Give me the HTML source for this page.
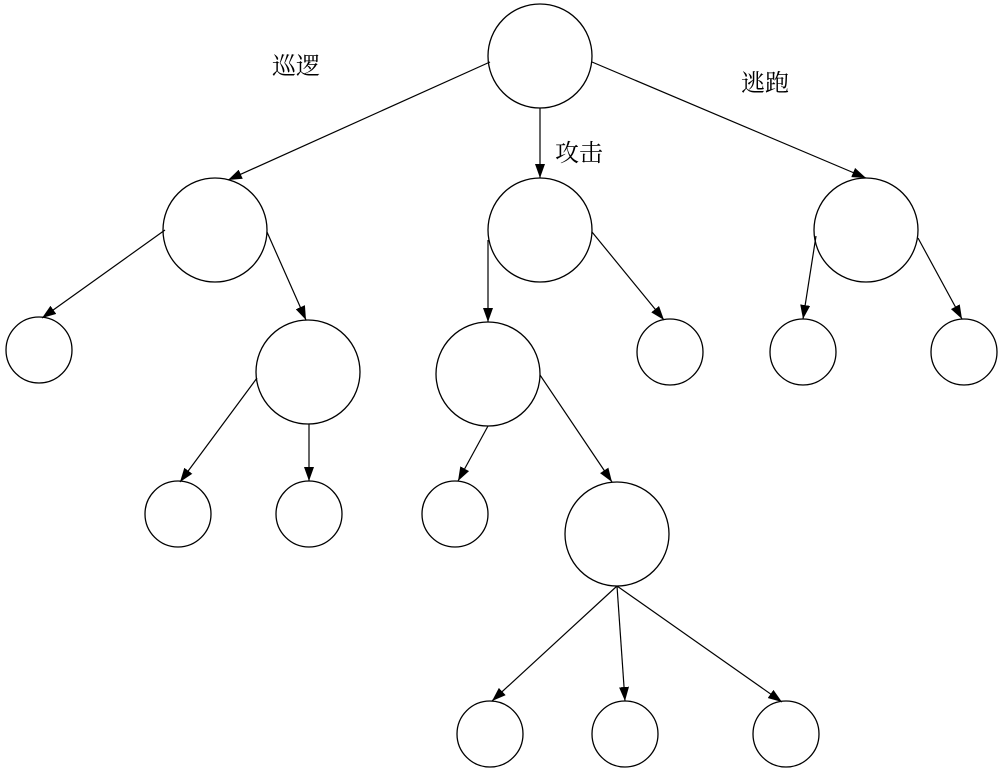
<!DOCTYPE html>
<html><head><meta charset="utf-8"><style>
html,body{margin:0;padding:0;background:#fff;}
svg{display:block;}
text{font-family:"Liberation Serif","Noto Serif CJK SC",serif;font-size:24px;fill:#000;}
</style></head><body>
<svg width="1000" height="770" viewBox="0 0 1000 770" xmlns="http://www.w3.org/2000/svg">
<defs>
<marker id="a" markerWidth="14" markerHeight="10" refX="14" refY="5" orient="auto" markerUnits="userSpaceOnUse">
<path d="M0,0 L14,5 L0,10 Z" fill="#000"/>
</marker>
</defs>
<g fill="none" stroke="#000" stroke-width="1.3">
<circle cx="540" cy="56" r="52"/>
<circle cx="215" cy="230" r="52"/>
<circle cx="540" cy="230" r="52"/>
<circle cx="866" cy="230" r="52"/>
<circle cx="39" cy="350" r="33"/>
<circle cx="308" cy="372" r="52"/>
<circle cx="178" cy="514" r="33"/>
<circle cx="309" cy="514" r="33"/>
<circle cx="488" cy="374" r="52"/>
<circle cx="670" cy="352" r="33"/>
<circle cx="803" cy="352" r="33"/>
<circle cx="964" cy="352" r="33"/>
<circle cx="455" cy="514" r="33"/>
<circle cx="617" cy="534" r="52"/>
<circle cx="490" cy="734" r="33"/>
<circle cx="625" cy="734" r="33"/>
<circle cx="786" cy="734" r="33"/>
</g>
<g stroke="#000" stroke-width="1.2" marker-end="url(#a)">
<line x1="490" y1="62" x2="228" y2="180"/>
<line x1="540" y1="108" x2="540" y2="178"/>
<line x1="592" y1="62" x2="866" y2="178"/>
<line x1="165" y1="230" x2="42" y2="318"/>
<line x1="267" y1="232" x2="306" y2="320"/>
<line x1="257" y1="378" x2="180" y2="482"/>
<line x1="309" y1="424" x2="309" y2="481"/>
<line x1="488" y1="240" x2="488" y2="322"/>
<line x1="592" y1="232" x2="664" y2="320"/>
<line x1="816" y1="236" x2="803" y2="319"/>
<line x1="918" y1="238" x2="962" y2="319"/>
<line x1="488" y1="426" x2="458" y2="481"/>
<line x1="540" y1="375" x2="612" y2="482"/>
<line x1="617" y1="586" x2="492" y2="701"/>
<line x1="617" y1="586" x2="625" y2="701"/>
<line x1="617" y1="586" x2="782" y2="702"/>
</g>
<text x="272" y="74">巡逻</text>
<text x="555" y="161">攻击</text>
<text x="741" y="91">逃跑</text>
</svg>
</body></html>
